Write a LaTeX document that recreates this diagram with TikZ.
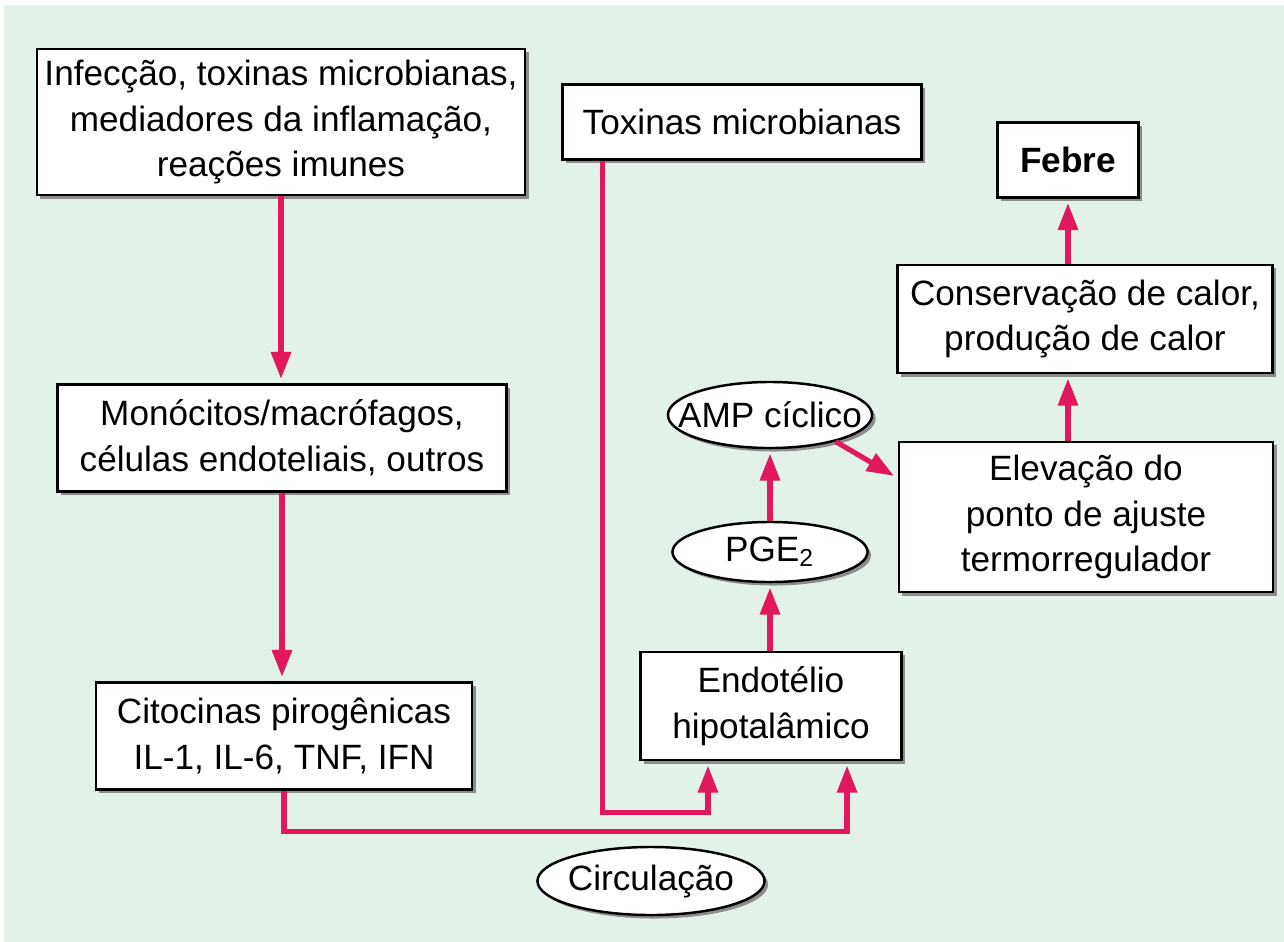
\documentclass[tikz,border=0pt]{standalone}
\usepackage{fontspec}
\setmainfont{Liberation Sans}
\usetikzlibrary{shapes,arrows.meta,positioning,shadows}
\definecolor{fundo}{RGB}{226,242,233}
\definecolor{carmim}{RGB}{226,24,92}

\begin{document}
\begin{tikzpicture}[x=0.01cm, y=-0.01cm,
	font=\fontsize{10}{13}\selectfont,
	sombra/.style={drop shadow={shadow xshift=0.035cm, shadow yshift=-0.035cm, fill=black!45, opacity=1}},
	caixa/.style={draw, line width=0.7pt, fill=white, align=center, inner sep=0pt, sombra},
	elipse/.style={draw, line width=0.7pt, ellipse, fill=white, inner sep=0pt, sombra},
	seta/.style={-{Triangle[length=7.7pt,width=5.5pt]}, line width=1.45pt, carmim, shorten >=1.2pt}]
				% fundo
				\useasboundingbox (0,0) rectangle (1284,942);
				\fill[white] (0,0) rectangle (1284,942);
				\fill[fundo] (4,5) rectangle (1284,942);
				
				\node[caixa, minimum width=4.88cm, minimum height=1.46cm] (infec) at (281,122) {Infecção, toxinas microbianas,\\mediadores da inflamação,\\reações imunes};
				\node[caixa, minimum width=4.49cm, minimum height=1.07cm] (mono) at (282,438) {Monócitos/macrófagos,\\células endoteliais, outros};
				\node[caixa, minimum width=3.76cm, minimum height=1.07cm] (cito) at (284,736) {Citocinas pirogênicas\\IL-1, IL-6, TNF, IFN};
				\node[caixa, minimum width=3.59cm, minimum height=0.75cm] (toxinas) at (742,122) {Toxinas microbianas};
				\node[caixa, minimum width=2.61cm, minimum height=1.08cm] (endot) at (771,706) {Endotélio\\hipotalâmico};
				\node[elipse, minimum width=1.95cm, minimum height=0.60cm, label=center:{PGE\textsubscript{2}}] (pge) at (770,552) {};
				\node[elipse, minimum width=2.04cm, minimum height=0.66cm, label=center:{AMP cíclico}] (amp) at (770,415) {};
				\node[caixa, minimum width=3.74cm, minimum height=1.50cm] (elev) at (1086,517) {Elevação do\\ponto de ajuste\\termorregulador};
				\node[caixa, minimum width=3.75cm, minimum height=1.08cm] (conserv) at (1085,319) {Conservação de calor,\\produção de calor};
				\node[caixa, minimum width=1.41cm, minimum height=0.75cm] (febre) at (1068,160) {\textbf{Febre}};
				\node[elipse, minimum width=2.27cm, minimum height=0.68cm, label=center:{Circulação}] (circ) at (651,881) {};
				
				\draw[seta] (infec.south) -- (infec.south |- mono.north);
				\draw[seta] (mono.south) -- (mono.south |- cito.north);
				\draw[seta] (cito.south) -- ++(0,41) -| ([xshift=0.76cm]endot.south);
				\draw[seta] ([xshift=-1.39cm]toxinas.south) -- ++(0,652) -| ([xshift=-0.63cm]endot.south);
				\draw[seta] (endot.north -| pge.south) -- (pge.south);
				\draw[seta] (pge.north) -- (amp.south);
				\draw[seta] (amp.-22) -- ([yshift=0.39cm]elev.west);
				\draw[seta] (elev.north -| febre.south) -- (conserv.south -| febre.south);
				\draw[seta] (conserv.north -| febre.south) -- (febre.south);
			\end{tikzpicture}
\end{document}
